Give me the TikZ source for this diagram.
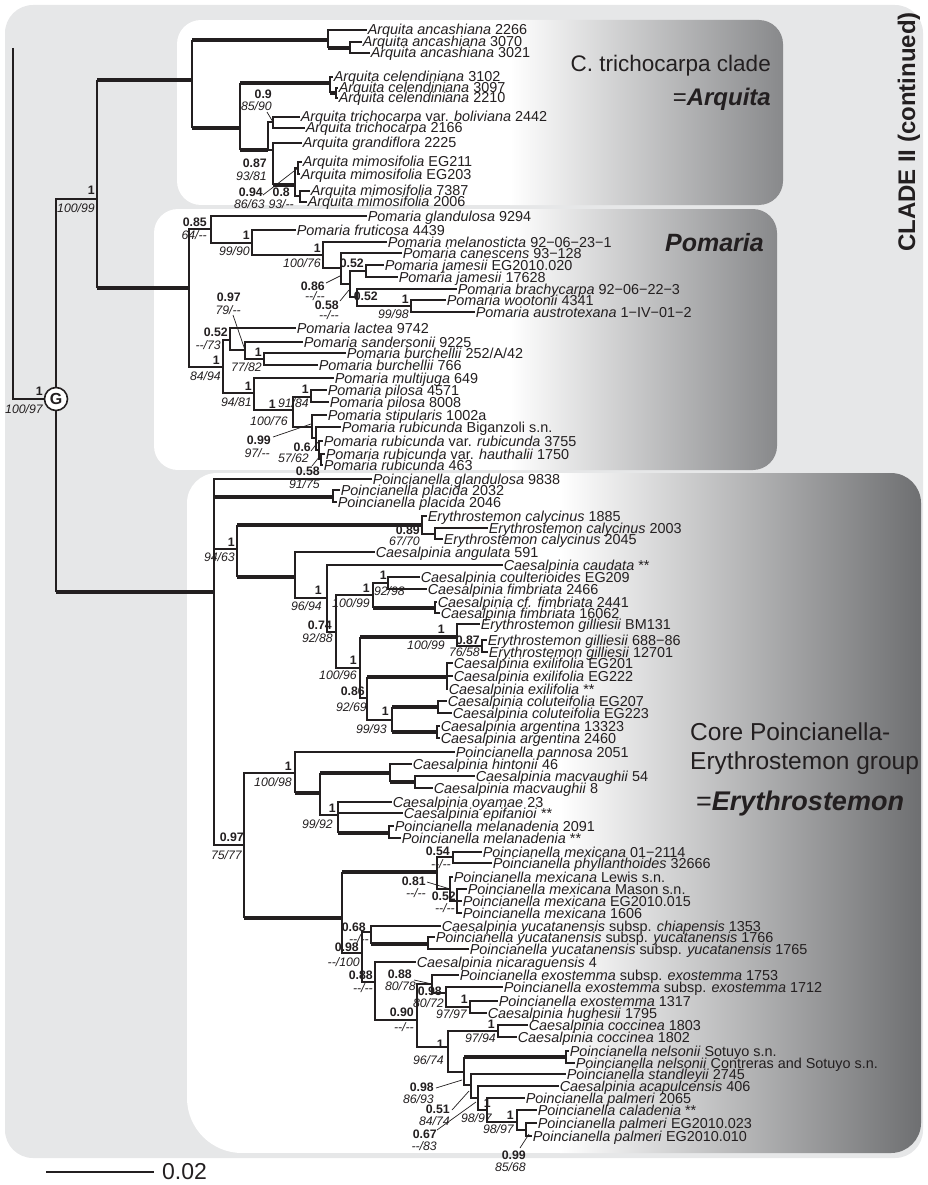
\documentclass[tikz,border=0pt]{standalone}
\usepackage{fontspec}
\setmainfont{Liberation Sans}
\definecolor{ink}{RGB}{35,31,32}
\definecolor{bgg}{RGB}{230,231,232}
\definecolor{pmid}{RGB}{214,215,216}
\definecolor{pdark}{RGB}{136,137,139}
\definecolor{emid}{RGB}{212,213,214}
\definecolor{edark}{RGB}{110,111,113}
\newcounter{labc}
\newcommand\tbr[2]{\draw[ln] (#1) |- (#2);}
\newcommand\tbrT[2]{\draw[ln] (#1) -- (#1 |- #2); \draw[ln,tk] (#1 |- #2) -- (#2);}
\newcommand\ppl[3]{\stepcounter{labc}\node[ppst] (lb\thelabc) at (#1,#2) {#3};}
\newcommand\bsl[3]{\stepcounter{labc}\node[bsst] (lb\thelabc) at (#1,#2) {#3};}
\newcommand\lfn[4]{\node[leaf] (#1) at (#2,#3) {#4};}
\begin{document}
\begin{tikzpicture}[x=1pt,y=-1pt,
 ln/.style={draw=ink, line width=1.25pt},
 tk/.style={line width=3.6pt},
 lead/.style={draw=ink, line width=0.7pt},
 leaf/.style={anchor=west, inner xsep=0.6pt, inner ysep=0pt, text height=10pt, text depth=0pt, font=\fontsize{14.4}{14}\selectfont, text=ink},
 ppst/.style={anchor=east, inner sep=0pt, text height=8.8pt, text depth=0pt, font=\fontsize{12.3}{12}\selectfont\bfseries, text=ink},
 bsst/.style={anchor=east, inner sep=0pt, text height=8.8pt, text depth=0pt, font=\fontsize{12.3}{12}\selectfont\itshape, text=ink},
 title/.style={text=ink, inner sep=0pt}]
\useasboundingbox (0,0) rectangle (927,1185);
% background
\fill[bgg, rounded corners=28pt] (5,5) rectangle (923,1158);
% Arquita panel
\begin{scope}
 \clip[rounded corners=24pt] (177,20) rectangle (783,205);
 \fill[white] (177,20) rectangle (783,205);
 \shade[left color=white, middle color=pmid, right color=pdark] (510,20) rectangle (783,205);
\end{scope}
% Pomaria panel
\begin{scope}
 \clip[rounded corners=24pt] (154,209) rectangle (777,470);
 \fill[white] (154,209) rectangle (777,470);
 \shade[left color=white, middle color=pmid, right color=pdark] (510,209) rectangle (777,470);
\end{scope}
% Erythrostemon panel
\begin{scope}
 \clip[rounded corners=30pt] (187,800) -- (187,473) -- (921,473) -- (921,1153) [rounded corners=55pt] -- (187,1153) -- cycle;
 \fill[white] (187,473) rectangle (921,1153);
 \shade[left color=white, middle color=emid, right color=edark] (560,473) rectangle (921,1153);
\end{scope}
% titles
\node[title, rotate=90, font=\fontsize{24}{24}\selectfont\bfseries] (clade) at (909,132) {CLADE II (continued)};
\node[title, anchor=east, font=\fontsize{22.5}{24}\selectfont] (t1) at (771,66) {C. trichocarpa clade};
\node[title, anchor=east, font=\fontsize{24}{26}\selectfont] (t2) at (771,99) {=\textbf{\textit{Arquita}}};
\node[title, anchor=east, font=\fontsize{25}{27}\selectfont\bfseries\itshape] (t3) at (764,243) {Pomaria};
\node[title, anchor=west, font=\fontsize{24.5}{25}\selectfont] (t4) at (690,732) {Core Poincianella-};
\node[title, anchor=west, font=\fontsize{24.5}{25}\selectfont] (t5) at (690,763) {Erythrostemon group};
\node[title, anchor=west, font=\fontsize{27}{27}\selectfont] (t6) at (696,804) {=\textbf{\textit{Erythrostemon}}};
% scale bar
\coordinate (s1) at (46,1172); \coordinate (s2) at (154,1172);
\draw[ln, line width=1.3pt] (s1) -- (s2);
\node[title, anchor=west, font=\fontsize{23}{23}\selectfont] (sc) at (162,1172) {0.02};

% ---------- root ----------
\node[circle, draw=ink, fill=white, line width=1.6pt, inner sep=0pt, minimum size=23pt, font=\fontsize{16}{16}\selectfont\bfseries, text=ink] (G) at (56,399) {G};
\coordinate (R) at (13,48);
\draw[ln] (R) |- (G);
\coordinate (AP) at (97,199);
\coordinate (E0) at (214,592);
\tbr{G}{AP}
\tbrT{G}{E0}
\ppl{43}{391}{1} \bsl{43}{409}{100/97}
\ppl{95}{190}{1} \bsl{95}{208}{100/99}

% ---------- Arquita ----------
\coordinate (A0) at (192,80);
\coordinate (A1) at (328,40);
\coordinate (A1b) at (350,48);
\coordinate (A2) at (240,128);
\coordinate (A3) at (330,83);
\coordinate (A3b) at (336,93);
\coordinate (N1) at (268,150);
\coordinate (Ntr) at (273,122);
\coordinate (N2) at (273,150);
\coordinate (M) at (295,185);
\coordinate (Meg) at (298,168);
\coordinate (M73) at (300,196);
\lfn{La1}{367}{30}{\textit{Arquita ancashiana} 2266}
\lfn{La2}{362}{42}{\textit{Arquita ancashiana} 3070}
\lfn{La3}{370}{53}{\textit{Arquita ancashiana} 3021}
\lfn{La4}{333}{77}{\textit{Arquita celendiniana} 3102}
\lfn{La5}{338}{88}{\textit{Arquita celendiniana} 3097}
\lfn{La6}{338}{98}{\textit{Arquita celendiniana} 2210}
\lfn{La7}{300}{117}{\textit{Arquita trichocarpa} var. \textit{boliviana} 2442}
\lfn{La8}{305}{128}{\textit{Arquita trichocarpa} 2166}
\lfn{La9}{302}{143}{\textit{Arquita grandiflora} 2225}
\lfn{La10}{302}{162}{\textit{Arquita mimosifolia} EG211}
\lfn{La11}{300}{174}{\textit{Arquita mimosifolia} EG203}
\lfn{La12}{310}{191}{\textit{Arquita mimosifolia} 7387}
\lfn{La13}{307}{202}{\textit{Arquita mimosifolia} 2006}
\tbrT{AP}{A0}
\tbrT{A0}{A1}
\tbr{A1}{La1.west}
\tbrT{A1}{A1b}
\tbr{A1b}{La2.west}
\tbr{A1b}{La3.west}
\tbrT{A0}{A2}
\tbrT{A2}{A3}
\tbr{A3}{La4.west}
\tbrT{A3}{A3b}
\tbr{A3b}{La5.west}
\tbr{A3b}{La6.west}
\tbrT{A2}{N1}
\tbr{N1}{Ntr}
\tbr{N1}{N2}
\tbr{Ntr}{La7.west}
\tbr{Ntr}{La8.west}
\tbr{N2}{La9.west}
\tbrT{N2}{M}
\tbr{M}{Meg}
\tbr{M}{M73}
\tbr{Meg}{La10.west}
\tbr{Meg}{La11.west}
\tbr{M73}{La12.west}
\tbr{M73}{La13.west}
\ppl{272}{94}{0.9} \bsl{272}{106}{85/90}
\draw[lead] (267,112) -- (Ntr);
\ppl{267}{163}{0.87} \bsl{267}{176}{93/81}
\ppl{263}{192}{0.94} \bsl{265}{204}{86/63}
\draw[lead] (263,195) -- (Meg);
\ppl{290}{192}{0.8} \bsl{294}{204}{93/-{}-}

% ---------- Pomaria ----------
\coordinate (P0) at (189,288);
\coordinate (P1) at (211,229);
\coordinate (P2) at (252,243);
\coordinate (P3) at (323,255);
\coordinate (P4) at (341,268);
\coordinate (P5) at (350,284);
\coordinate (P6) at (366,271);
\coordinate (P7) at (357,297);
\coordinate (P8) at (411,306);
\coordinate (P9) at (223,367);
\coordinate (P10) at (230,340);
\coordinate (P11) at (245,350);
\coordinate (P11b) at (264,359);
\coordinate (P12) at (254,393);
\coordinate (P13) at (293,410);
\coordinate (Ppl) at (311,397);
\coordinate (P14) at (312,427);
\coordinate (P15) at (316,438);
\coordinate (P16) at (319,450);
\coordinate (P17) at (321,459);
\lfn{Lp1}{367}{216}{\textit{Pomaria glandulosa} 9294}
\lfn{Lp2}{296}{230}{\textit{Pomaria fruticosa} 4439}
\lfn{Lp3}{387}{242}{\textit{Pomaria melanosticta} 92−06−23−1}
\lfn{Lp4}{402}{253}{\textit{Pomaria canescens} 93−128}
\lfn{Lp5}{384}{265}{\textit{Pomaria jamesii} EG2010.020}
\lfn{Lp6}{398}{277}{\textit{Pomaria jamesii} 17628}
\lfn{Lp7}{457}{289}{\textit{Pomaria brachycarpa} 92−06−22−3}
\lfn{Lp8}{446}{300}{\textit{Pomaria wootonii} 4341}
\lfn{Lp9}{475}{312}{\textit{Pomaria austrotexana} 1−IV−01−2}
\lfn{Lp10}{296}{328}{\textit{Pomaria lactea} 9742}
\lfn{Lp11}{303}{342}{\textit{Pomaria sandersonii} 9225}
\lfn{Lp12}{346}{353}{\textit{Pomaria burchellii} 252/A/42}
\lfn{Lp13}{318}{365}{\textit{Pomaria burchellii} 766}
\lfn{Lp14}{334}{378}{\textit{Pomaria multijuga} 649}
\lfn{Lp15}{327}{390}{\textit{Pomaria pilosa} 4571}
\lfn{Lp16}{329}{402}{\textit{Pomaria pilosa} 8008}
\lfn{Lp17}{327}{415}{\textit{Pomaria stipularis} 1002a}
\lfn{Lp18}{341}{427}{\textit{Pomaria rubicunda} Biganzoli s.n.}
\lfn{Lp19}{323}{441}{\textit{Pomaria rubicunda} var. \textit{rubicunda} 3755}
\lfn{Lp20}{325}{454}{\textit{Pomaria rubicunda} var. \textit{hauthalii} 1750}
\lfn{Lp21}{323}{465}{\textit{Pomaria rubicunda} 463}
\tbrT{AP}{P0}
\tbr{P0}{P1}
\tbr{P1}{Lp1.west}
\tbr{P1}{P2}
\tbr{P2}{Lp2.west}
\tbr{P2}{P3}
\tbr{P3}{Lp3.west}
\tbr{P3}{P4}
\tbr{P4}{Lp4.west}
\tbr{P4}{P5}
\tbr{P5}{P6}
\tbr{P6}{Lp5.west}
\tbr{P6}{Lp6.west}
\tbr{P5}{P7}
\tbr{P7}{Lp7.west}
\tbr{P7}{P8}
\tbr{P8}{Lp8.west}
\tbr{P8}{Lp9.west}
\tbr{P0}{P9}
\tbr{P9}{P10}
\tbr{P10}{Lp10.west}
\tbr{P10}{P11}
\tbr{P11}{Lp11.west}
\tbr{P11}{P11b}
\tbr{P11b}{Lp12.west}
\tbr{P11b}{Lp13.west}
\tbr{P9}{P12}
\tbr{P12}{Lp14.west}
\tbr{P12}{P13}
\tbr{P13}{Ppl}
\tbr{Ppl}{Lp15.west}
\tbr{Ppl}{Lp16.west}
\tbr{P13}{P14}
\tbr{P14}{Lp17.west}
\tbr{P14}{P15}
\tbr{P15}{Lp18.west}
\tbr{P15}{P16}
\tbr{P16}{Lp19.west}
\tbr{P16}{P17}
\tbr{P17}{Lp20.west}
\tbr{P17}{Lp21.west}
\ppl{207}{222}{0.85} \bsl{207}{235}{64/-{}-}
\ppl{250}{235}{1} \bsl{250}{251}{99/90}
\ppl{321}{248}{1} \bsl{321}{263}{100/76}
\ppl{325}{286}{0.86} \bsl{325}{296}{-{}-/-{}-}
\draw[lead] (326,283) -- (340,276);
\ppl{364}{263}{0.52}
\ppl{339}{305}{0.58} \bsl{339}{315}{-{}-/-{}-}
\draw[lead] (340,301) -- (349,290);
\ppl{378}{296}{0.52}
\ppl{409}{299}{1} \bsl{409}{314}{99/98}
\ppl{220}{360}{1} \bsl{221}{376}{84/94}
\ppl{228}{332}{0.52} \bsl{221}{345}{-{}-/73}
\ppl{241}{297}{0.97} \bsl{241}{310}{79/-{}-}
\draw[lead] (233,315) -- (P11);
\ppl{262}{352}{1} \bsl{262}{367}{77/82}
\ppl{252}{386}{1} \bsl{252}{402}{94/81}
\ppl{276}{404}{1} \bsl{288}{421}{100/76}
\ppl{309}{389}{1} \bsl{309}{403}{91/84}
\ppl{271}{440}{0.99} \bsl{270}{453}{97/-{}-}
\draw[lead] (273,437) -- (311,424);
\ppl{311}{447}{0.6} \bsl{309}{458}{57/62}
\draw[lead] (311,451) -- (318,442);
\draw[lead] (312,466) -- (320,456);

% ---------- Erythrostemon ----------
\coordinate (PL) at (333,497);
\coordinate (E1) at (237,549);
\coordinate (CA) at (422,525);
\coordinate (CAb) at (435,534);
\coordinate (E2) at (295,577);
\coordinate (E3) at (327,598);
\coordinate (E4) at (336,632);
\coordinate (E5) at (373,595);
\coordinate (E5a) at (388,583);
\coordinate (E5b) at (435,608);
\coordinate (E6) at (360,668);
\coordinate (E7) at (457,637);
\coordinate (E7b) at (482,646);
\coordinate (E8) at (367,698);
\coordinate (E9) at (447,677);
\coordinate (E10) at (392,720);
\coordinate (E10a) at (438,707);
\coordinate (E10b) at (437,732);
\coordinate (Ec) at (244,845);
\coordinate (E11) at (295,773);
\coordinate (E12) at (320,793);
\coordinate (E13) at (390,773);
\coordinate (E13b) at (415,782);
\coordinate (E14) at (338,815);
\coordinate (E14b) at (389,833);
\coordinate (E15) at (342,918);
\coordinate (E16) at (437,872);
\coordinate (E16a) at (453,857);
\coordinate (E16b) at (450,889);
\coordinate (E16c) at (457,901);
\coordinate (E17) at (362,953);
\coordinate (E18) at (371,932);
\coordinate (E18b) at (428,944);
\coordinate (E19) at (375,982);
\coordinate (E20) at (417,1020);
\coordinate (E21) at (432,984);
\coordinate (E21b) at (446,993);
\coordinate (E21c) at (470,1007);
\coordinate (E22) at (448,1047);
\coordinate (E22a) at (498,1031);
\coordinate (E23) at (464,1072);
\coordinate (E23a) at (566,1057);
\coordinate (E24) at (471,1085);
\coordinate (E25) at (478,1098);
\coordinate (E26) at (487,1110);
\coordinate (E27) at (517,1122);
\coordinate (E27b) at (526,1130);
\lfn{Le1}{372}{479}{\textit{Poincianella glandulosa} 9838}
\lfn{Le2}{340}{490}{\textit{Poincianella placida} 2032}
\lfn{Le3}{337}{502}{\textit{Poincianella placida} 2046}
\lfn{Le4}{427}{516}{\textit{Erythrostemon calycinus} 1885}
\lfn{Le5}{488}{528}{\textit{Erythrostemon calycinus} 2003}
\lfn{Le6}{443}{539}{\textit{Erythrostemon calycinus} 2045}
\lfn{Le7}{375}{552}{\textit{Caesalpinia angulata} 591}
\lfn{Le8}{503}{565}{\textit{Caesalpinia caudata} **}
\lfn{Le9}{420}{577}{\textit{Caesalpinia coulterioides} EG209}
\lfn{Le10}{427}{589}{\textit{Caesalpinia fimbriata} 2466}
\lfn{Le11}{437}{602}{\textit{Caesalpinia cf. fimbriata} 2441}
\lfn{Le12}{440}{613}{\textit{Caesalpinia fimbriata} 16062}
\lfn{Le13}{480}{624}{\textit{Erythrostemon gilliesii} BM131}
\lfn{Le14}{487}{640}{\textit{Erythrostemon gilliesii} 688−86}
\lfn{Le15}{488}{652}{\textit{Erythrostemon gilliesii} 12701}
\lfn{Le16}{453}{663}{\textit{Caesalpinia exilifolia} EG201}
\lfn{Le17}{453}{676}{\textit{Caesalpinia exilifolia} EG222}
\lfn{Le18}{448}{689}{\textit{Caesalpinia exilifolia} **}
\lfn{Le19}{447}{701}{\textit{Caesalpinia coluteifolia} EG207}
\lfn{Le20}{452}{713}{\textit{Caesalpinia coluteifolia} EG223}
\lfn{Le21}{440}{726}{\textit{Caesalpinia argentina} 13323}
\lfn{Le22}{440}{738}{\textit{Caesalpinia argentina} 2460}
\lfn{Le23}{455}{752}{\textit{Poincianella pannosa} 2051}
\lfn{Le24}{412}{764}{\textit{Caesalpinia hintonii} 46}
\lfn{Le25}{475}{776}{\textit{Caesalpinia macvaughii} 54}
\lfn{Le26}{433}{788}{\textit{Caesalpinia macvaughii} 8}
\lfn{Le27}{392}{802}{\textit{Caesalpinia oyamae} 23}
\lfn{Le28}{403}{813}{\textit{Caesalpinia epifanioi} **}
\lfn{Le29}{394}{826}{\textit{Poincianella melanadenia} 2091}
\lfn{Le30}{401}{838}{\textit{Poincianella melanadenia} **}
\lfn{Le31}{482}{852}{\textit{Poincianella mexicana} 01−2114}
\lfn{Le32}{492}{863}{\textit{Poincianella phyllanthoides} 32666}
\lfn{Le33}{453}{877}{\textit{Poincianella mexicana} Lewis s.n.}
\lfn{Le34}{467}{889}{\textit{Poincianella mexicana} Mason s.n.}
\lfn{Le35}{462}{901}{\textit{Poincianella mexicana} EG2010.015}
\lfn{Le36}{462}{913}{\textit{Poincianella mexicana} 1606}
\lfn{Le37}{441}{926}{\textit{Caesalpinia yucatanensis} subsp. \textit{chiapensis} 1353}
\lfn{Le38}{435}{937}{\textit{Poincianella yucatanensis} subsp. \textit{yucatanensis} 1766}
\lfn{Le39}{469}{949}{\textit{Poincianella yucatanensis} subsp. \textit{yucatanensis} 1765}
\lfn{Le40}{416}{962}{\textit{Caesalpinia nicaraguensis} 4}
\lfn{Le41}{459}{975}{\textit{Poincianella exostemma} subsp. \textit{exostemma} 1753}
\lfn{Le42}{503}{987}{\textit{Poincianella exostemma} subsp. \textit{exostemma} 1712}
\lfn{Le43}{498}{1001}{\textit{Poincianella exostemma} 1317}
\lfn{Le44}{487}{1013}{\textit{Caesalpinia hughesii} 1795}
\lfn{Le45}{528}{1025}{\textit{Caesalpinia coccinea} 1803}
\lfn{Le46}{517}{1037}{\textit{Caesalpinia coccinea} 1802}
\lfn{Le47}{569}{1051}{\textit{Poincianella nelsonii} Sotuyo s.n.}
\lfn{Le48}{575}{1063}{\textit{Poincianella nelsonii} Contreras and Sotuyo s.n.}
\lfn{Le49}{566}{1074}{\textit{Poincianella standleyii} 2745}
\lfn{Le50}{559}{1086}{\textit{Caesalpinia acapulcensis} 406}
\lfn{Le51}{525}{1098}{\textit{Poincianella palmeri} 2065}
\lfn{Le52}{537}{1110}{\textit{Poincianella caladenia} **}
\lfn{Le53}{537}{1123}{\textit{Poincianella palmeri} EG2010.023}
\lfn{Le54}{532}{1136}{\textit{Poincianella palmeri} EG2010.010}
\tbr{E0}{Le1.west}
\tbrT{E0}{PL}
\tbr{PL}{Le2.west}
\tbr{PL}{Le3.west}
\tbr{E0}{E1}
\tbrT{E1}{CA}
\tbr{CA}{Le4.west}
\tbr{CA}{CAb}
\tbr{CAb}{Le5.west}
\tbr{CAb}{Le6.west}
\tbrT{E1}{E2}
\tbr{E2}{Le7.west}
\tbr{E2}{E3}
\tbr{E3}{Le8.west}
\tbr{E3}{E4}
\tbr{E4}{E5}
\tbr{E5}{E5a}
\tbr{E5a}{Le9.west}
\tbr{E5a}{Le10.west}
\tbrT{E5}{E5b}
\tbr{E5b}{Le11.west}
\tbr{E5b}{Le12.west}
\tbr{E4}{E6}
\tbrT{E6}{E7}
\tbr{E7}{Le13.west}
\tbr{E7}{E7b}
\tbr{E7b}{Le14.west}
\tbr{E7b}{Le15.west}
\tbr{E6}{E8}
\tbrT{E8}{E9}
\tbr{E9}{Le16.west}
\tbr{E9}{Le17.west}
\tbr{E9}{Le18.west}
\tbr{E8}{E10}
\tbrT{E10}{E10a}
\tbr{E10a}{Le19.west}
\tbr{E10a}{Le20.west}
\tbrT{E10}{E10b}
\tbr{E10b}{Le21.west}
\tbr{E10b}{Le22.west}
\tbr{E0}{Ec}
\tbr{Ec}{E11}
\tbr{E11}{Le23.west}
\tbrT{E11}{E12}
\tbrT{E12}{E13}
\tbr{E13}{Le24.west}
\tbrT{E13}{E13b}
\tbr{E13b}{Le25.west}
\tbr{E13b}{Le26.west}
\tbr{E12}{E14}
\tbr{E14}{Le27.west}
\tbr{E14}{Le28.west}
\tbrT{E14}{E14b}
\tbr{E14b}{Le29.west}
\tbr{E14b}{Le30.west}
\tbrT{Ec}{E15}
\tbrT{E15}{E16}
\tbr{E16}{E16a}
\tbr{E16a}{Le31.west}
\tbr{E16a}{Le32.west}
\tbr{E16}{E16b}
\tbr{E16b}{Le33.west}
\tbr{E16b}{E16c}
\tbr{E16c}{Le34.west}
\tbr{E16c}{Le35.west}
\tbr{E16c}{Le36.west}
\tbr{E15}{E17}
\tbr{E17}{E18}
\tbr{E18}{Le37.west}
\tbrT{E18}{E18b}
\tbr{E18b}{Le38.west}
\tbr{E18b}{Le39.west}
\tbr{E17}{E19}
\tbr{E19}{Le40.west}
\tbr{E19}{E20}
\tbr{E20}{E21}
\tbr{E21}{Le41.west}
\tbr{E21}{E21b}
\tbr{E21b}{Le42.west}
\tbr{E21b}{E21c}
\tbr{E21c}{Le43.west}
\tbr{E21c}{Le44.west}
\tbr{E20}{E22}
\tbr{E22}{E22a}
\tbr{E22a}{Le45.west}
\tbr{E22a}{Le46.west}
\tbr{E22}{E23}
\tbrT{E23}{E23a}
\tbr{E23a}{Le47.west}
\tbr{E23a}{Le48.west}
\tbr{E23}{E24}
\tbr{E24}{Le49.west}
\tbr{E24}{E25}
\tbr{E25}{Le50.west}
\tbr{E25}{E26}
\tbr{E26}{Le51.west}
\tbr{E26}{E27}
\tbr{E27}{Le52.west}
\tbr{E27}{E27b}
\tbr{E27b}{Le53.west}
\tbr{E27b}{Le54.west}
% support values
\ppl{320}{471}{0.58} \bsl{320}{484}{91/75}
\ppl{235}{542}{1} \bsl{235}{557}{94/63}
\ppl{420}{530}{0.89} \bsl{420}{541}{67/70}
\ppl{322}{590}{1} \bsl{322}{606}{96/94}
\ppl{370}{588}{1} \bsl{370}{603}{100/99}
\ppl{387}{575}{1} \bsl{405}{591}{92/98}
\ppl{332}{625}{0.74} \bsl{333}{638}{92/88}
\ppl{357}{660}{1} \bsl{357}{675}{100/96}
\ppl{445}{629}{1} \bsl{445}{645}{100/99}
\ppl{480}{640}{0.87} \bsl{480}{652}{76/58}
\ppl{365}{691}{0.86} \bsl{367}{707}{92/69}
\ppl{389}{711}{1} \bsl{387}{729}{99/93}
\ppl{244}{837}{0.97} \bsl{242}{855}{75/77}
\ppl{292}{766}{1} \bsl{292}{782}{100/98}
\ppl{336}{808}{1} \bsl{333}{824}{99/92}
\ppl{450}{851}{0.54} \bsl{451}{864}{-{}-/-{}-}
\ppl{426}{881}{0.81} \bsl{426}{893}{-{}-/-{}-}
\draw[lead] (427,882) -- (E16b);
\ppl{456}{896}{0.52} \bsl{455}{908}{-{}-/-{}-}
\ppl{359}{947}{0.98} \bsl{360}{962}{-{}-/100}
\ppl{366}{927}{0.68} \bsl{369}{939}{-{}-/-{}-}
\ppl{373}{975}{0.88} \bsl{373}{988}{-{}-/-{}-}
\ppl{414}{1012}{0.90} \bsl{414}{1027}{-{}-/-{}-}
\ppl{412}{974}{0.88} \bsl{416}{986}{80/78}
\draw[lead] (414,980) -- (E21);
\ppl{442}{991}{0.98} \bsl{444}{1003}{80/72}
\ppl{468}{999}{1} \bsl{467}{1014}{97/97}
\ppl{444}{1044}{1} \bsl{444}{1060}{96/74}
\ppl{495}{1024}{1} \bsl{496}{1038}{97/94}
\ppl{434}{1087}{0.98} \bsl{434}{1099}{86/93}
\draw[lead] (436,1088) -- (462,1080);
\ppl{450}{1109}{0.51} \bsl{450}{1121}{84/74}
\draw[lead] (452,1110) -- (469,1091);
\ppl{437}{1134}{0.67} \bsl{437}{1146}{-{}-/83}
\draw[lead] (437,1130) -- (476,1102);
\ppl{491}{1103}{1} \bsl{492}{1118}{98/97}
\ppl{514}{1115}{1} \bsl{514}{1129}{98/97}
\ppl{526}{1155}{0.99} \bsl{526}{1167}{85/68}
\draw[lead] (520,1148) -- (529,1134);
\end{tikzpicture}
\end{document}
